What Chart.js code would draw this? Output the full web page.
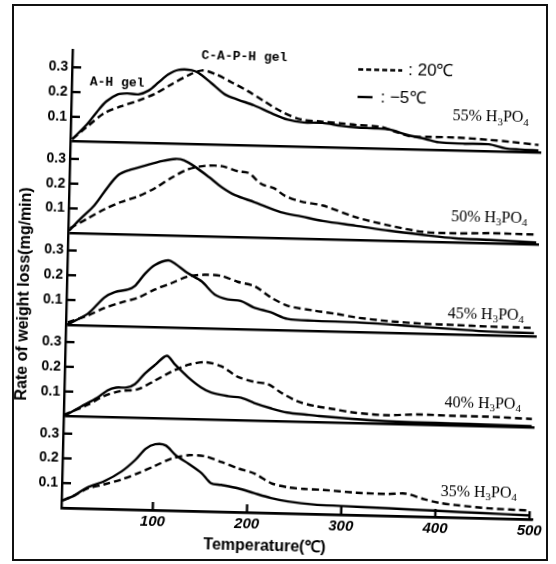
<!DOCTYPE html>
<html>
<head>
<meta charset="utf-8">
<script src="https://cdn.jsdelivr.net/npm/chart.js@4.4.0/dist/chart.umd.min.js"></script>
<style>
html,body{margin:0;padding:0;background:#fff;}
#wrap{position:relative;width:556px;height:564px;overflow:hidden;}
#frame{position:absolute;left:12px;top:4px;width:532px;height:553px;border:2px solid #111;}
#box{position:absolute;left:0;top:0;width:556px;height:564px;transform:rotate(1.4deg);}
</style>
</head>
<body>
<div id="wrap">
<div id="frame"></div>
<div id="box"><canvas id="chart" width="556" height="564"></canvas></div>
</div>
<script>

const concentrations=["55","50","45","40","35"];

// [temperature, rate]; cold = -5℃ (solid), warm = 20℃ (dashed)
const cold55=[[5,0.01],[20,0.07],[30,0.12],[40,0.165],[52,0.195],[62,0.2],[74,0.197],[85,0.214],[95,0.247],[105,0.28],[116,0.3],[130,0.3],[137,0.29],[151,0.25],[166,0.205],[180,0.185],[197,0.164],[215,0.135],[233,0.11],[250,0.1],[270,0.1],[290,0.09],[306,0.085],[325,0.083],[341,0.08],[360,0.06],[380,0.045],[394,0.033],[420,0.03],[447,0.03],[465,0.015],[480,0.012],[500,0.01]];
const warm55=[[5,0.01],[20,0.06],[38,0.117],[56,0.147],[74,0.172],[91,0.2],[109,0.241],[127,0.28],[141,0.3],[155,0.287],[173,0.254],[190,0.221],[208,0.181],[226,0.142],[247,0.112],[270,0.105],[290,0.1],[306,0.095],[331,0.09],[349,0.07],[363,0.055],[384,0.054],[412,0.054],[447,0.048],[470,0.042],[500,0.032]];
const cold50=[[4,0.01],[16,0.06],[30,0.114],[44,0.19],[55,0.24],[66,0.26],[83,0.28],[101,0.3],[115,0.31],[124,0.305],[136,0.28],[151,0.24],[165,0.2],[179,0.17],[200,0.143],[228,0.105],[250,0.09],[273,0.074],[308,0.058],[344,0.041],[379,0.028],[414,0.017],[450,0.014],[500,0.008]];
const warm50=[[5,0.02],[23,0.06],[41,0.1],[58,0.13],[76,0.155],[94,0.19],[112,0.235],[129,0.27],[147,0.285],[165,0.285],[182,0.266],[193,0.26],[207,0.217],[221,0.2],[232,0.172],[250,0.15],[273,0.136],[308,0.092],[344,0.062],[379,0.04],[414,0.037],[450,0.041],[500,0.04]];
const cold45=[[4,0],[26,0.046],[43,0.113],[54,0.136],[68,0.148],[75,0.162],[86,0.215],[96,0.25],[110,0.27],[117,0.258],[131,0.22],[146,0.188],[160,0.137],[174,0.118],[188,0.113],[202,0.088],[220,0.07],[238,0.045],[266,0.04],[310,0.038],[345,0.033],[381,0.026],[416,0.02],[451,0.014],[500,0.012]];
const warm45=[[5,0.01],[26,0.039],[43,0.07],[61,0.095],[79,0.116],[96,0.15],[114,0.178],[131,0.206],[149,0.215],[167,0.212],[184,0.19],[202,0.174],[220,0.13],[238,0.098],[266,0.081],[290,0.07],[310,0.058],[345,0.046],[381,0.039],[416,0.037],[451,0.034],[500,0.033]];
const cold40=[[3,0],[21,0.04],[38,0.077],[49,0.109],[58,0.121],[69,0.122],[78,0.137],[88,0.18],[99,0.217],[111,0.254],[120,0.219],[134,0.17],[148,0.13],[159,0.11],[177,0.097],[191,0.092],[205,0.072],[223,0.052],[240,0.037],[261,0.03],[274,0.026],[309,0.018],[345,0.012],[380,0.01],[415,0.009],[451,0.008],[500,0.006]];
const warm40=[[3,0.005],[28,0.048],[45,0.085],[63,0.107],[81,0.116],[99,0.153],[116,0.19],[134,0.22],[152,0.232],[169,0.217],[187,0.176],[205,0.157],[219,0.15],[233,0.117],[251,0.083],[269,0.066],[290,0.055],[309,0.044],[345,0.036],[380,0.042],[415,0.04],[451,0.04],[500,0.035]];
const cold35=[[4,0.03],[16,0.05],[30,0.085],[48,0.112],[66,0.153],[80,0.2],[91,0.247],[101,0.266],[112,0.262],[123,0.223],[137,0.19],[151,0.153],[161,0.114],[172,0.108],[190,0.096],[207,0.078],[225,0.06],[243,0.048],[271,0.038],[300,0.035],[350,0.03],[400,0.025],[450,0.02],[500,0.015]];
const warm35=[[4,0.03],[16,0.05],[30,0.08],[48,0.099],[66,0.12],[84,0.148],[101,0.178],[119,0.21],[137,0.225],[154,0.222],[172,0.2],[190,0.176],[207,0.157],[225,0.12],[243,0.105],[260,0.1],[280,0.098],[315,0.09],[350,0.088],[368,0.091],[388,0.07],[404,0.057],[421,0.05],[457,0.04],[500,0.035]];

const coldSeries={"55":cold55,"50":cold50,"45":cold45,"40":cold40,"35":cold35};
const warmSeries={"55":warm55,"50":warm50,"45":warm45,"40":warm40,"35":warm35};

const yTicks=[0.1,0.2,0.3];
const xTicks=[100,200,300,400,500];

const INK="#000";
const LW=2.4;

const datasets=[];
concentrations.forEach(c=>{
datasets.push({
label:"-5℃ "+c+"%",
data:coldSeries[c].map(p=>({x:p[0],y:p[1]})),
yAxisID:"y"+c,
borderColor:INK,borderWidth:LW,pointRadius:0,tension:0.3,fill:false
});
datasets.push({
label:"20℃ "+c+"%",
data:warmSeries[c].map(p=>({x:p[0],y:p[1]})),
yAxisID:"y"+c,
borderColor:INK,borderWidth:LW,borderDash:[7,4],pointRadius:0,tension:0.3,fill:false
});
});

const scales={
x:{
type:"linear",min:3,max:503,
afterBuildTicks:s=>{s.ticks=xTicks.map(v=>({value:v}));},
afterFit:s=>{s.height=51;},
grid:{display:false,drawTicks:false},
border:{display:true,color:INK,width:LW},
ticks:{color:INK,padding:3,font:{family:"Liberation Sans",size:15,weight:"bold",style:"italic"}}
}
};

// bottom panel first: the last stacked left axis ends up on top
concentrations.slice().reverse().forEach(c=>{
scales["y"+c]={
type:"linear",position:"left",stack:"panels",stackWeight:1,
min:0,max:0.37,
afterBuildTicks:s=>{s.ticks=[0,...yTicks].map(v=>({value:v}));},
afterFit:s=>{s.width=67;},
grid:{
color:ctx=>ctx.tick&&ctx.tick.value===0?INK:"rgba(0,0,0,0)",
lineWidth:LW,drawTicks:false
},
border:{display:true,color:INK,width:LW},
ticks:{
autoSkip:false,color:INK,padding:4,
font:{family:"Liberation Sans",size:14,weight:"bold"},
callback:v=>v===0?"":v.toFixed(1)
}
};
});

function line(ctx,x1,y1,x2,y2){
ctx.beginPath();ctx.moveTo(x1,y1);ctx.lineTo(x2,y2);ctx.stroke();
}

function formula(ctx,parts,x,y,size){
let cx=x;
parts.forEach(([t,sub])=>{
ctx.font=(sub?Math.round(size*0.7):size)+'px "Liberation Serif"';
ctx.fillText(t,cx,sub?y+size*0.28:y);
cx+=ctx.measureText(t).width;
});
}

const decorations={
id:"decorations",
afterDatasetsDraw(chart,args,opts){
const {ctx,chartArea:a,scales:s}=chart;
ctx.save();
ctx.strokeStyle=INK;ctx.fillStyle=INK;ctx.lineWidth=LW;

// short inward tick marks
concentrations.forEach(c=>{
yTicks.forEach(v=>{
const y=s["y"+c].getPixelForValue(v);
line(ctx,a.left,y,a.left+9,y);
});
});
xTicks.forEach(v=>{
const x=s.x.getPixelForValue(v);
line(ctx,x,a.bottom,x,a.bottom-8);
});

ctx.textBaseline="middle";
ctx.textAlign="left";

// panel labels
opts.panelLabels.forEach((p,i)=>{
const c=concentrations[i];
formula(ctx,[[c+"% H",0],["3",1],["PO",0],["4",1]],
s.x.getPixelForValue(p.x),s["y"+c].getPixelForValue(p.y),16);
});

// legend
ctx.setLineDash([5,3]);
line(ctx,353,67.5,397,67.5);
ctx.setLineDash([]);
line(ctx,353,95,368,95);
ctx.font='17px "Liberation Sans"';
ctx.fillText(": 20℃",403,67);
ctx.fillText(": −5℃",376,95);

// gel labels
ctx.font='bold 13px "Liberation Mono"';
ctx.fillText("A-H gel",85,87);
ctx.fillText("C-A-P-H gel",196,58);

// axis titles
ctx.font='bold 16px "Liberation Sans"';
ctx.textAlign="center";
ctx.fillText("Temperature(℃)",271,547);
ctx.translate(25,300);
ctx.rotate(-Math.PI/2);
ctx.fillText("Rate of weight loss(mg/min)",0,0);

ctx.restore();
}
};

new Chart(document.getElementById("chart"),{
type:"line",
data:{datasets},
options:{
responsive:false,
animation:false,
layout:{padding:{top:55,right:18,left:0,bottom:0}},
plugins:{
legend:{display:false},
tooltip:{enabled:false},
decorations:{
panelLabels:[{x:408,y:0.139},{x:409,y:0.104},{x:408,y:0.08},{x:407,y:0.092},{x:405,y:0.103}]
}
},
scales
},
plugins:[decorations]
});

</script>
</body>
</html>
